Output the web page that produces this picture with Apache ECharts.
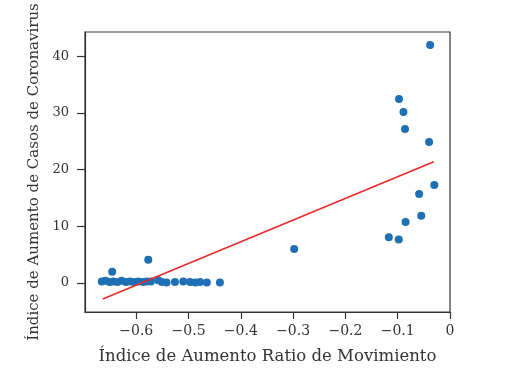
<!DOCTYPE html>
<html>
<head>
<meta charset="utf-8">
<script src="https://cdn.jsdelivr.net/npm/echarts@6/dist/echarts.min.js"></script>
<style>html,body{margin:0;padding:0;background:#fff}#c{width:507px;height:370px}</style>
</head>
<body>
<div id="c"></div>
<script>
// Scatter points: movement ratio index (x) vs coronavirus case increase index (y)
const movX = [-0.666,-0.659,-0.651,-0.644,-0.636,-0.628,-0.620,-0.612,-0.604,-0.596,-0.587,-0.580,-0.572,-0.558,-0.551,-0.542,-0.526,-0.510,-0.497,-0.487,-0.478,-0.465,-0.440,
              -0.646,-0.577,-0.298,
              -0.117,-0.098,-0.085,-0.055,-0.059,-0.030,-0.040,-0.086,-0.089,-0.0975,-0.038];
const casesY = [0.3,0.4,0.2,0.3,0.2,0.4,0.2,0.3,0.2,0.3,0.2,0.3,0.3,0.5,0.2,0.1,0.2,0.3,0.2,0.1,0.2,0.1,0.1,
              2.0,4.1,6.0,
              8.1,7.7,10.8,11.9,15.7,17.3,24.9,27.2,30.2,32.5,42.0];
// Regression line endpoints
const fitX = [-0.664, -0.031];
const fitY = [-2.8, 21.4];
const xTicks = [-0.6,-0.5,-0.4,-0.3,-0.2,-0.1,0];
const yTicks = [0,10,20,30,40];

const chart = echarts.init(document.getElementById('c'));
const font = 'DejaVu Serif';
chart.setOption({
  animation: false,
  backgroundColor: '#fff',
  grid: {left: 85, right: 57, top: 32, bottom: 58, show: true, borderColor: '#333', borderWidth: 1.2, containLabel: false},
  xAxis: {
    type: 'value', min: -0.698, max: 0,
    splitLine: {show: false},
    axisLine: {onZero: false, lineStyle: {color: '#333', width: 1.2}},
    axisTick: {length: 7, customValues: xTicks, lineStyle: {color: '#333', width: 1.2}},
    axisLabel: {customValues: xTicks, color: '#333', fontFamily: font, fontSize: 14, margin: 12,
      formatter: v => Math.abs(v) < 1e-9 ? '0' : '\u2212' + Math.abs(v).toFixed(1)},
    name: 'Índice de Aumento Ratio de Movimiento', nameLocation: 'middle', nameGap: 36,
    nameTextStyle: {color: '#333', fontFamily: font, fontSize: 16.5}
  },
  yAxis: {
    type: 'value', min: -5.1, max: 44.3,
    splitLine: {show: false},
    axisLine: {onZero: false, lineStyle: {color: '#333', width: 1.2}},
    axisTick: {length: 8, customValues: yTicks, lineStyle: {color: '#333', width: 1.2}},
    axisLabel: {customValues: yTicks, color: '#333', fontFamily: font, fontSize: 13, margin: 16},
    name: 'Índice de Aumento de Casos de Coronavirus', nameLocation: 'middle', nameGap: 41,
    nameTextStyle: {color: '#333', fontFamily: font, fontSize: 15}
  },
  series: [
    {type: 'scatter', symbolSize: 8, itemStyle: {color: '#1f6fb4', opacity: 1},
     data: movX.map((x, i) => [x, casesY[i]])},
    {type: 'line', symbol: 'none', lineStyle: {color: '#e8292a', width: 1.5},
     data: fitX.map((x, i) => [x, fitY[i]])}
  ]
});
</script>
</body>
</html>
